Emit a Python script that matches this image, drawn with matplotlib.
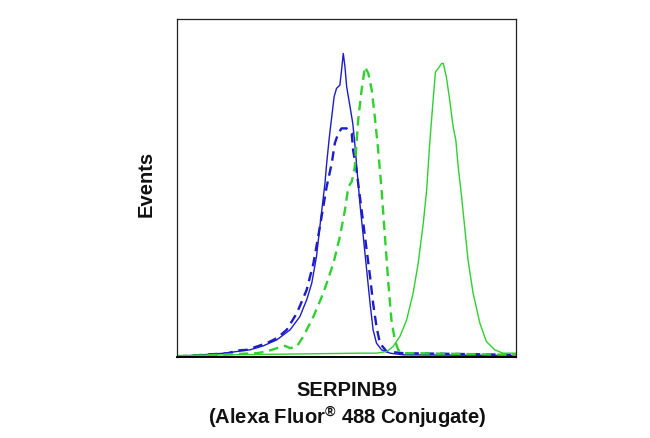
import matplotlib
matplotlib.use("Agg")
import matplotlib.pyplot as plt

# ---- data (channel, events) ----
blue_solid_x = [0, 140, 175, 214, 253, 293, 332, 361, 381, 396, 410, 420, 428, 435, 440, 448, 455, 462, 469, 479, 484, 489,
                494, 499, 509, 517, 523, 528, 533, 538, 548, 558, 568, 577, 587, 602, 627, 666, 1000]
blue_solid_y = [0, 1.0, 1.5, 2, 3.2, 5, 8, 12, 17, 22, 30, 39, 46, 52, 58, 66, 72, 78, 80.5, 81.5, 86, 91,
                87, 81, 75, 70, 64, 58, 52, 46, 36, 26, 16, 8, 4, 2, 1, 0.5, 0.3]

blue_dash_x = [0, 150, 175, 204, 234, 263, 293, 322, 352, 381, 401, 415, 430, 440, 455, 464, 474, 484, 499, 514, 518, 528,
               538, 548, 558, 568, 577, 587, 597, 617, 666, 1000]
blue_dash_y = [0, 1, 1.8, 2, 3, 4, 5.5, 8, 13, 20, 28, 36, 45, 51, 58, 64, 67, 68.5, 68.5, 67, 62, 56,
               48, 40, 32, 24, 16, 9, 4, 1.5, 1, 0.5]

green_dash_x = [0, 234, 263, 302, 317, 332, 352, 371, 401, 430, 460, 479, 494, 504, 514, 523, 528, 533, 543, 553, 563, 573,
                582, 592, 602, 612, 622, 631, 641, 651, 666, 685, 1000]
green_dash_y = [0, 1, 1.5, 2.8, 3.2, 2.5, 3, 6, 12, 19, 28, 36, 44, 51, 52.5, 57, 64, 71, 80, 87, 85, 80,
                72, 62, 50, 36, 22, 11, 5, 2, 1, 1, 0.5]

green_solid_x = [0, 538, 587, 617, 636, 656, 676, 695, 710, 725, 735, 744, 754, 761, 769, 779, 784, 793, 803, 813, 821, 828,
                 838, 847, 857, 872, 892, 911, 936, 960, 1000]
green_solid_y = [0.3, 1, 1, 1.5, 3, 6, 11, 19, 28, 40, 50, 64, 77, 85.5, 86.5, 88, 88, 84, 77, 69, 65, 57,
                 48, 39, 29, 19, 10, 4.5, 2, 1, 1]

x_label = "SERPINB9\n(Alexa Fluor$^{®}$ 488 Conjugate)"
y_label = "Events"

BLUE = "#1c1cc8"
GREEN = "#2ed12e"

fam = "Liberation Sans"
plt.rcParams["mathtext.fontset"] = "custom"
plt.rcParams["mathtext.rm"] = fam + ":bold"
plt.rcParams["mathtext.it"] = fam + ":bold"
plt.rcParams["mathtext.bf"] = fam + ":bold"

fig = plt.figure(figsize=(6.5, 4.38), dpi=100)
ax = fig.add_axes([177.5 / 650, 81.5 / 438, 339 / 650, 338 / 438])

ax.plot(blue_solid_x, blue_solid_y, color=BLUE, lw=1.0)
ax.plot(blue_dash_x, blue_dash_y, color=BLUE, lw=1.7, dashes=(4, 2.5))
ax.plot(green_dash_x, green_dash_y, color=GREEN, lw=1.7, dashes=(4, 2.5))
ax.plot(green_solid_x, green_solid_y, color=GREEN, lw=1.0)

ax.set_xlim(0, 1000)
ax.set_ylim(0, 101.5)
ax.set_xticks([])
ax.set_yticks([])
for s in ax.spines.values():
    s.set_linewidth(0.9)
    s.set_color("#222222")
ax.spines["bottom"].set_linewidth(1.4)
ax.spines["bottom"].set_color("black")

ax.set_xlabel(x_label, fontsize=14.5, fontweight="bold", family=fam, labelpad=18, linespacing=1.2, color="#111111")
ax.set_ylabel(y_label, fontsize=14.5, fontweight="bold", family=fam, labelpad=16, color="#111111")
ax.yaxis.label.set_y(0.51)

fig.savefig("out.png", dpi=100)
